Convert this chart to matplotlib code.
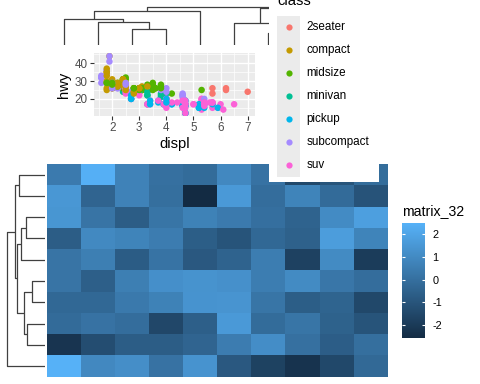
import numpy as np
import matplotlib
matplotlib.use("Agg")
import matplotlib.pyplot as plt
from matplotlib.colors import LinearSegmentedColormap
from matplotlib.patches import Rectangle

plt.rcParams['font.family'] = ['Liberation Sans', 'DejaVu Sans']
plt.rcParams['axes.unicode_minus'] = False

# ---------------- heatmap data (rows top->bottom, cols left->right, as displayed)
matrix_32 = [
    [0.42, 2.42, 0.71, 0.03, -0.14, 0.93, 0.11, -1.50, -1.00, -0.11],
    [1.47, -0.42, 0.71, -0.03, -2.59, 1.55, -0.08, 0.76, -0.17, -1.07],
    [1.44, 0.17, -0.70, 0.20, 0.68, 0.42, 0.00, -0.48, 1.04, 1.80],
    [-0.70, 0.96, 0.76, 0.48, -0.65, -1.04, -0.28, -0.56, 1.72, 0.76],
    [0.17, 0.56, -0.73, 0.14, -0.87, -0.48, 0.51, -1.74, 1.02, -1.94],
    [0.17, -0.62, 0.56, 1.21, 1.33, 1.24, 0.51, 1.02, 0.26, -0.08],
    [-0.28, -0.28, 0.37, 0.68, 1.35, 1.38, 0.20, -0.65, -0.45, -1.49],
    [-0.17, 0.11, -0.08, -1.52, -0.62, 1.58, -0.14, 0.20, -0.53, -1.04],
    [-2.22, -1.29, -0.70, -0.70, -0.42, 0.48, 1.13, 0.03, -0.67, -0.03],
    [2.48, 0.93, 1.16, 0.11, 1.35, -0.87, -1.72, -2.28, -1.49, -0.25],
]
# dendrogram merges: (left child, right child, height); leaves 0..9, merged nodes 10..
col_merges = [(2, 3, 15.7), (1, 10, 23.3), (0, 11, 26.0), (12, 4, 34.3), (6, 7, 12.0),
              (5, 14, 21.7), (8, 9, 17.0), (15, 16, 36.7), (13, 17, 38.3)]
row_merges = [(0, 1, 26.0), (2, 3, 19.0), (11, 4, 24.3), (5, 6, 13.3), (7, 8, 18.3),
              (13, 14, 21.0), (12, 15, 27.7), (10, 16, 30.0), (17, 9, 38.3)]
heat_ticks = [-2, -1, 0, 1, 2]
heat_colors = ['#132B43', '#56B1F7']

# ---------------- mpg scatter data
classes = ['2seater', 'compact', 'midsize', 'minivan', 'pickup', 'subcompact', 'suv']
class_colors = ['#F8766D', '#C49A00', '#53B400', '#00C094', '#00B6EB', '#A58AFF', '#FB61D7']
class_codes = ['2', 'c', 'm', 'v', 'p', 'u', 's']
displ = [
    1.8, 1.8, 2.0, 2.0, 2.8, 2.8, 3.1,
    1.8, 1.8, 2.0, 2.0, 2.8, 2.8, 3.1, 3.1,
    2.8, 3.1, 4.2,
    5.3, 5.3, 5.3, 5.7, 6.0,
    5.7, 5.7, 6.2, 6.2, 7.0,
    5.3, 5.3, 5.7, 6.5,
    2.4, 2.4, 3.1, 3.5, 3.6,
    2.4, 3.0, 3.3, 3.3, 3.3, 3.3, 3.3, 3.8, 3.8, 3.8, 4.0,
    3.7, 3.7, 3.9, 3.9, 4.7, 4.7, 4.7, 5.2, 5.2,
    3.9, 4.7, 4.7, 4.7, 5.2, 5.7, 5.9,
    4.7, 4.7, 4.7, 4.7, 4.7, 4.7, 5.2, 5.2, 5.7, 5.9,
    4.6, 5.4, 5.4,
    4.0, 4.0, 4.0, 4.0, 4.6, 5.0,
    4.2, 4.2, 4.6, 4.6, 4.6, 5.4, 5.4,
    3.8, 3.8, 4.0, 4.0, 4.6, 4.6, 4.6, 4.6, 5.4,
    1.6, 1.6, 1.6, 1.6, 1.6, 1.8, 1.8, 1.8, 2.0,
    2.4, 2.4, 2.4, 2.4, 2.5, 2.5, 3.3,
    2.0, 2.0, 2.0, 2.0, 2.7, 2.7, 2.7,
    3.0, 3.7, 4.0, 4.7, 4.7, 4.7, 5.7, 6.1,
    4.0, 4.2, 4.4, 4.6,
    5.4, 5.4, 5.4,
    4.0, 4.0, 4.6, 5.0,
    2.4, 2.4, 2.5, 2.5, 3.5, 3.5,
    3.0, 3.0, 3.5,
    3.3, 3.3, 4.0, 5.6,
    3.1, 3.8, 3.8, 3.8, 5.3,
    2.5, 2.5, 2.5, 2.5, 2.5, 2.5,
    2.2, 2.2, 2.5, 2.5, 2.5, 2.5, 2.5, 2.5,
    2.7, 2.7, 3.4, 3.4, 4.0, 4.7,
    2.2, 2.2, 2.4, 2.4, 3.0, 3.0, 3.5,
    2.2, 2.2, 2.4, 2.4, 3.0, 3.0, 3.3,
    1.8, 1.8, 1.8, 1.8, 1.8,
    4.7, 5.7,
    2.7, 2.7, 2.7, 3.4, 3.4, 4.0, 4.0,
    2.0, 2.0, 2.0, 2.0, 2.8,
    1.9, 2.0, 2.0, 2.0, 2.0, 2.5, 2.5, 2.8, 2.8,
    1.9, 1.9, 2.0, 2.0, 2.5, 2.5,
    1.8, 1.8, 2.0, 2.0, 2.8, 2.8, 3.6,
]
hwy = [
    29, 29, 31, 30, 26, 26, 27,
    26, 25, 28, 27, 25, 25, 25, 25,
    24, 25, 23,
    20, 15, 20, 17, 17,
    26, 23, 26, 25, 24,
    19, 14, 15, 17,
    27, 30, 26, 29, 26,
    24, 24, 22, 22, 24, 24, 17, 22, 21, 23, 23,
    19, 18, 17, 17, 19, 19, 12, 17, 15,
    17, 17, 12, 17, 16, 18, 15,
    16, 12, 17, 17, 16, 12, 15, 16, 17, 15,
    17, 17, 18,
    17, 19, 17, 19, 19, 17,
    17, 17, 16, 16, 17, 15, 17,
    26, 25, 26, 24, 21, 22, 23, 22, 20,
    33, 32, 32, 29, 32, 34, 36, 36, 29,
    26, 27, 30, 31, 26, 26, 28,
    26, 29, 28, 29, 24, 24, 24,
    22, 19, 20, 17, 12, 19, 18, 14,
    15, 18, 18, 15,
    17, 16, 18,
    17, 19, 19, 17,
    29, 27, 31, 32, 27, 26,
    26, 25, 25,
    17, 17, 20, 18,
    26, 26, 27, 28, 25,
    25, 24, 27, 25, 26, 23,
    26, 26, 26, 26, 27, 27, 25, 27,
    20, 20, 19, 17, 20, 17,
    29, 27, 31, 31, 26, 26, 28,
    27, 29, 31, 31, 26, 26, 27,
    30, 33, 35, 37, 35,
    15, 18,
    20, 20, 22, 17, 19, 18, 20,
    29, 26, 29, 29, 24,
    44, 29, 26, 29, 29, 29, 29, 23, 24,
    44, 41, 29, 26, 28, 29,
    29, 29, 28, 29, 26, 26, 26,
]
cls = list(
    "ccccccc" "cccccccc" "mmm" "sssss" "22222" "ssss" "mmmmm"
    "vvvvvvvvvvv" "ppppppppp" "sssssss" "pppppppppp" "sss" "ssssss"
    "ppppppp" "uuuuuuuuu" "uuuuuuuuu" "mmmmmmm" "uuuuuuu" "ssssssss"
    "ssss" "sss" "ssss" "ccmmmm" "mmm" "ssss" "mmmmm" "ssssss"
    "uuuucccc" "ssssss" "mmmmmmm" "ccccccc" "ccccc" "ss" "ppppppp"
    "ccccc" "ccccccccc" "uuuuuu" "mmmmmmm"
)

# ---------------- figure
W, H = 480, 384
fig = plt.figure(figsize=(W / 100, H / 100), dpi=100)


def ax_px(x0, y0, x1, y1, **kw):
    return fig.add_axes([x0 / W, 1 - y1 / H, (x1 - x0) / W, (y1 - y0) / H], **kw)


def dendro_segments(merges, n):
    pos = {i: i + 0.5 for i in range(n)}
    hgt = {i: 0.0 for i in range(n)}
    segs = []
    for k, (a, b, h) in enumerate(merges):
        segs.append(([pos[a], pos[a], pos[b], pos[b]], [hgt[a], h, h, hgt[b]]))
        pos[n + k] = (pos[a] + pos[b]) / 2
        hgt[n + k] = h
    return segs


data = np.array(matrix_32)
nr, nc = data.shape
cmap = LinearSegmentedColormap.from_list('gg', heat_colors)
vmin, vmax = data.min(), data.max()

# heatmap body
ax_hm = ax_px(46.7, 164, 387.7, 376.7)
mesh = ax_hm.pcolormesh(data, cmap=cmap, vmin=vmin, vmax=vmax)
ax_hm.set_xlim(0, nc)
ax_hm.set_ylim(nr, 0)
ax_hm.axis('off')

dcol = '#404040'
# row dendrogram
ax_rd = ax_px(0, 164, 45, 376.7)
for p, h in dendro_segments(row_merges, nr):
    ax_rd.plot(h, p, color=dcol, lw=0.9, solid_capstyle='butt')
ax_rd.set_xlim(45, 0)
ax_rd.set_ylim(nr, 0)
ax_rd.axis('off')

# column dendrogram
ax_cd = ax_px(46.7, 0, 387.7, 45)
for p, h in dendro_segments(col_merges, nc):
    ax_cd.plot(p, h, color=dcol, lw=0.9, solid_capstyle='butt')
ax_cd.set_xlim(0, nc)
ax_cd.set_ylim(0, 45)
ax_cd.axis('off')

# heatmap colour legend
cax = ax_px(402.3, 223.3, 425, 338.3)
cb = fig.colorbar(mesh, cax=cax, ticks=heat_ticks)
cb.outline.set_visible(False)
cax.tick_params(axis='y', left=True, right=True, direction='in', length=2.5,
                width=0.8, color='white', labelcolor='black', labelsize=7.8, pad=5.5)
for lab in cax.get_yticklabels():
    lab.set_fontsize(7.8)
fig.text(402 / W, 1 - 211 / H, 'matrix_32', fontsize=10.2, va='center', ha='left')

# ---------------- ggplot scatter
ax_sc = ax_px(94, 53.3, 255, 116)
ax_sc.set_facecolor('#EBEBEB')
for s in ax_sc.spines.values():
    s.set_visible(False)
ax_sc.set_xlim(1.33, 7.27)
ax_sc.set_ylim(10.4, 45.6)
ax_sc.set_xticks([2, 3, 4, 5, 6, 7])
ax_sc.set_yticks([20, 30, 40])
ax_sc.set_xticks([1.5, 2.5, 3.5, 4.5, 5.5, 6.5], minor=True)
ax_sc.set_yticks([15, 25, 35, 45], minor=True)
ax_sc.grid(which='major', color='white', lw=1.0)
ax_sc.grid(which='minor', color='white', lw=0.5)
ax_sc.set_axisbelow(True)
ax_sc.tick_params(which='major', length=2.7, width=0.8, color='#333333',
                  labelcolor='#4D4D4D', labelsize=8.4, pad=1.8)
ax_sc.tick_params(which='minor', length=0)
col_of = {c: class_colors[i] for i, c in enumerate(class_codes)}
ax_sc.scatter(displ, hwy, s=22, c=[col_of[c] for c in cls], linewidths=0, zorder=3)
ax_sc.set_xlabel('displ', fontsize=10.6, labelpad=2)
ax_sc.set_ylabel('hwy', fontsize=10.6, labelpad=3)

# ---------------- ggplot legend (drawn over the heatmap)
ax_lg = ax_px(269, 0, 379, 182.3)
ax_lg.set_zorder(5)
ax_lg.set_xlim(269, 379)
ax_lg.set_ylim(182.3, 0)
ax_lg.set_facecolor('white')
ax_lg.set_xticks([])
ax_lg.set_yticks([])
for s in ax_lg.spines.values():
    s.set_visible(False)
ax_lg.add_patch(Rectangle((277.3, 16), 22.7, 160.7, facecolor='#EBEBEB', edgecolor='none'))
for i, name in enumerate(classes):
    yk = 27.0 + 23.0 * i
    ax_lg.scatter([288.5], [yk], s=20, color=class_colors[i], linewidths=0, zorder=3)
    ax_lg.text(306.5, yk, name, fontsize=8.4, va='center', ha='left')
ax_lg.text(277, 5, 'class', fontsize=10.6, va='baseline', ha='left', clip_on=False)

fig.savefig('out.png', dpi=100)
